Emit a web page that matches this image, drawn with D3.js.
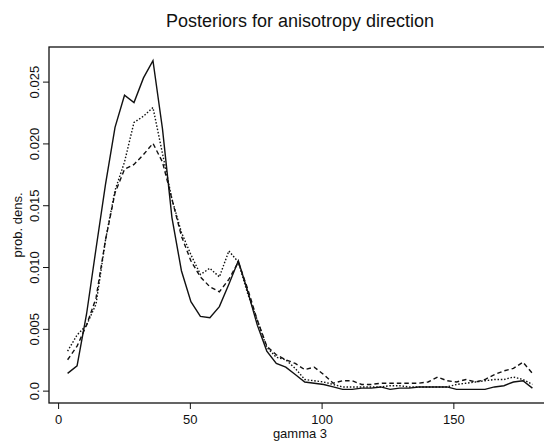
<!DOCTYPE html>
<html>
<head>
<meta charset="utf-8">
<script src="https://cdn.jsdelivr.net/npm/d3@7"></script>
<style>
  body { margin: 0; background: #fff; }
  text { font-family: "Liberation Sans", Arial, sans-serif; fill: #111; }
</style>
</head>
<body>
<div id="container"></div>
<script>
// gamma 3 grid (degrees)
let angles = d3.range(1, 51).map(k => +(k * 3.6).toFixed(1));

let solidVals = [0.0014, 0.0020, 0.0062, 0.0115, 0.0167, 0.0213, 0.0239, 0.0233, 0.0253, 0.0267,
  0.0212, 0.0140, 0.0097, 0.0072, 0.0060, 0.0059, 0.0068, 0.0086, 0.0105, 0.0080,
  0.0053, 0.0032, 0.0022, 0.0019, 0.0013, 0.0007, 0.0006, 0.0005, 0.0003, 0.0001,
  0.0001, 0.0002, 0.0002, 0.0003, 0.0001, 0.0002, 0.0002, 0.0003, 0.0003, 0.0003,
  0.0003, 0.0001, 0.0001, 0.0001, 0.0001, 0.0003, 0.0004, 0.0007, 0.0008, 0.0002];

let dottedVals = [0.0032, 0.0045, 0.0053, 0.0070, 0.0122, 0.0162, 0.0185, 0.0217, 0.0222, 0.0229,
  0.0192, 0.0155, 0.0128, 0.0110, 0.0094, 0.0099, 0.0092, 0.0113, 0.0104, 0.0078,
  0.0057, 0.0035, 0.0027, 0.0025, 0.0018, 0.0009, 0.0008, 0.0007, 0.0005, 0.0003,
  0.0003, 0.0003, 0.0003, 0.0003, 0.0004, 0.0004, 0.0003, 0.0003, 0.0003, 0.0003,
  0.0003, 0.0005, 0.0006, 0.0007, 0.0008, 0.0009, 0.0009, 0.0011, 0.0009, 0.0005];

let dashedVals = [0.0025, 0.0036, 0.0053, 0.0075, 0.0122, 0.0160, 0.0179, 0.0183, 0.0191, 0.0200,
  0.0185, 0.0155, 0.0125, 0.0105, 0.0092, 0.0084, 0.0080, 0.0090, 0.0104, 0.0082,
  0.0057, 0.0036, 0.0029, 0.0025, 0.0022, 0.0017, 0.0019, 0.0013, 0.0006, 0.0008,
  0.0008, 0.0005, 0.0005, 0.0006, 0.0006, 0.0006, 0.0006, 0.0006, 0.0007, 0.0011,
  0.0008, 0.0007, 0.0009, 0.0007, 0.0009, 0.0013, 0.0016, 0.0018, 0.0023, 0.0014];

let xTicks = [0, 50, 100, 150];
let yTicks = [0, 0.005, 0.010, 0.015, 0.020, 0.025];
let yTickLabels = ["0.0", "0.005", "0.010", "0.015", "0.020", "0.025"];

let w = 544;
let h = 446;
let padLeft = 49, padRight = 551, padTop = 47, padBottom = 403;

let viz = d3.select("#container")
  .append("svg")
  .attr("width", w)
  .attr("height", h);

let xScale = d3.scaleLinear().domain([-3.456, 187.056]).range([padLeft, padRight]);
let yScale = d3.scaleLinear().domain([-0.001, 0.0278]).range([padBottom, padTop]);

// title
viz.append("text")
  .attr("x", (padLeft + padRight) / 2)
  .attr("y", 27)
  .attr("text-anchor", "middle")
  .attr("font-size", "18px")
  .text("Posteriors for anisotropy direction");

// box
viz.append("rect")
  .attr("x", padLeft).attr("y", padTop)
  .attr("width", padRight - padLeft).attr("height", padBottom - padTop)
  .attr("fill", "none").attr("stroke", "#111").attr("stroke-width", 1.3);

// x axis
let xAxisGroup = viz.append("g")
  .attr("transform", "translate(0," + padBottom + ")")
  .call(d3.axisBottom(xScale).tickValues(xTicks).tickSize(6).tickSizeOuter(0));
xAxisGroup.select(".domain").remove();
xAxisGroup.selectAll("line").attr("stroke", "#111");
xAxisGroup.selectAll("text")
  .attr("font-size", "13px")
  .attr("font-family", "Liberation Sans, Arial, sans-serif")
  .attr("fill", "#111")
  .attr("dy", "0.9em");

// y axis
let yAxisGroup = viz.append("g")
  .attr("transform", "translate(" + padLeft + ",0)")
  .call(d3.axisLeft(yScale).tickValues(yTicks).tickSize(6)
    .tickFormat((d, i) => yTickLabels[i]));
yAxisGroup.select(".domain").remove();
yAxisGroup.selectAll("line").attr("stroke", "#111");
yAxisGroup.selectAll("text")
  .attr("font-size", "13px")
  .attr("font-family", "Liberation Sans, Arial, sans-serif")
  .attr("fill", "#111")
  .attr("x", null).attr("dy", null)
  .attr("text-anchor", "middle")
  .attr("transform", "translate(-10,0) rotate(-90)");

// axis titles
viz.append("text")
  .attr("x", (padLeft + padRight) / 2)
  .attr("y", 438)
  .attr("text-anchor", "middle")
  .attr("font-size", "13px")
  .text("gamma 3");

viz.append("text")
  .attr("transform", "translate(22," + ((padTop + padBottom) / 2) + ") rotate(-90)")
  .attr("text-anchor", "middle")
  .attr("font-size", "13px")
  .text("prob. dens.");

// lines
let line = d3.line()
  .x((d, i) => xScale(angles[i]))
  .y(d => yScale(d));

let series = [
  { vals: solidVals, dash: null },
  { vals: dottedVals, dash: "1.5,1.8" },
  { vals: dashedVals, dash: "4.5,3" }
];

let vizGroup = viz.append("g").attr("class", "vizGroup");
vizGroup.selectAll("path.series")
  .data(series)
  .enter()
  .append("path")
  .attr("class", "series")
  .attr("d", d => line(d.vals))
  .attr("fill", "none")
  .attr("stroke", "#111")
  .attr("stroke-width", 1.4)
  .attr("stroke-dasharray", d => d.dash);
</script>
</body>
</html>
